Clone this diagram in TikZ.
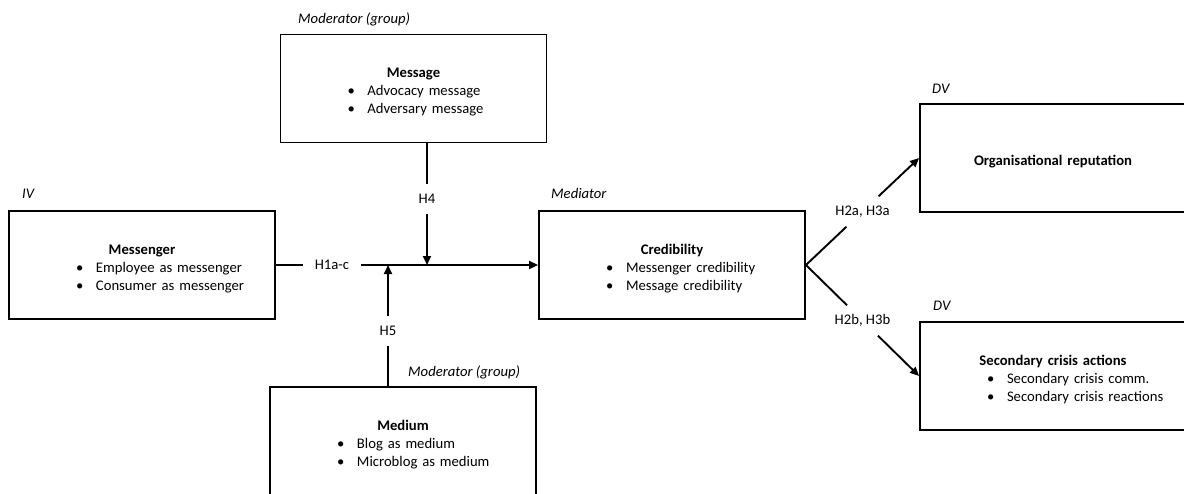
\documentclass[tikz,border=0pt]{standalone}
\usepackage{fontspec}
\setmainfont{Carlito}
\usepackage{tikz}
\usetikzlibrary{arrows.meta}
\newcommand{\bul}[1]{\mbox{\makebox[20pt][l]{\textbullet}#1}}
\newcommand{\boxhead}[1]{\makebox[\linewidth]{\rule{0pt}{17pt}\bfseries #1}}
\tikzset{
  txt/.style={font=\fontsize{14.67}{18}\selectfont},
  varbox/.style={txt, draw, line width=1.9pt, minimum width=266pt, minimum height=108pt, text width=132pt, align=left, inner sep=0pt},
  hyp/.style={txt, inner xsep=12pt, inner ysep=0pt, minimum height=30pt},
  role/.style={txt, font=\fontsize{14.67}{18}\selectfont\itshape, anchor=base west, inner sep=0pt},
  conn/.style={line width=1.9pt},
  tip/.style={-{Triangle[length=9pt,width=8pt]}}
}

\begin{document}
\begin{tikzpicture}[x=1pt, y=-1pt]
        \useasboundingbox (0,0) rectangle (1184,493);
        \clip (0,0) rectangle (1184,493);
        \node[varbox] (mgr) at (142,265) {\boxhead{Messenger}\\ \bul{Employee as messenger}\\ \bul{Consumer as messenger}};
        \node[varbox] (msg) at (413.5,88.5) {\boxhead{Message}\\ \bul{Advocacy message}\\ \bul{Adversary message}};
        \node[varbox] (med) at (403,441) {\boxhead{Medium}\\ \bul{Blog as medium}\\ \bul{Microblog as medium}};
        \node[varbox] (cred) at (672,265) {\boxhead{Credibility}\\ \bul{Messenger credibility}\\ \bul{Message credibility}};
        \node[varbox] (org) at (1053,158) {\boxhead{Organisational reputation}};
        \node[varbox] (sec) at (1053,376) {\boxhead{Secondary crisis actions}\\ \bul{Secondary crisis comm.}\\ \bul{Secondary crisis reactions}};
        \node[role] (iv) at (22,198) {IV};
        \node[role] (modtop) at (298,23) {Moderator (group)};
        \node[role] (medr) at (551,198) {Mediator};
        \node[role] (dvtop) at (932,93) {DV};
        \node[role] (dvbot) at (933,310) {DV};
        \node[role] (modbot) at (408,376) {Moderator (group)};
        \node[hyp] (h1) at (332,265) {H1a-c};
        \node[hyp] (h4) at (427,199) {H4};
        \node[hyp] (h5) at (388,331) {H5};
        \node[hyp] (h2a) at (862.5,211.5) {H2a, H3a};
        \node[hyp] (h2b) at (862.5,320.5) {H2b, H3b};
        \draw[conn] (mgr) -- (h1);
        \draw[conn, tip] (h1) -- (cred);
        \draw[conn] (msg.south -| h4) -- (h4);
        \draw[conn, tip] (h4) -- (h4 |- h1);
        \draw[conn] (med.north -| h5) -- (h5);
        \draw[conn, tip] (h5) -- (h5 |- h1);
        \draw[conn] (cred.east) -- (h2a);
        \draw[conn, tip] (h2a) -- (org.west);
        \draw[conn] (cred.east) -- (h2b);
        \draw[conn, tip] (h2b) -- (sec.west);
\end{tikzpicture}
\end{document}
